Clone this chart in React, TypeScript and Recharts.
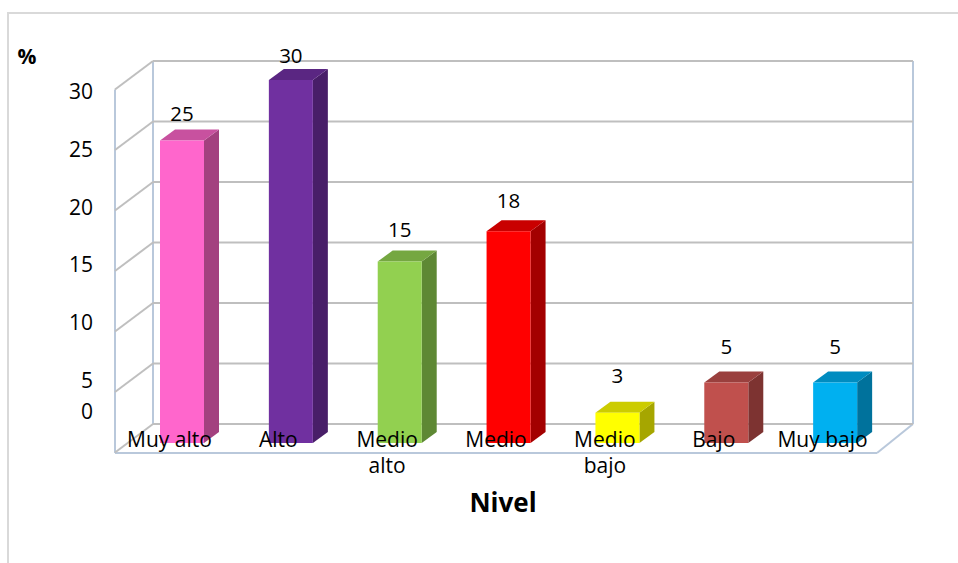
import React from 'react';
import { BarChart, Bar, XAxis, YAxis, CartesianGrid, LabelList } from 'recharts';

const categories = ['Muy alto', 'Alto', 'Medio alto', 'Medio', 'Medio bajo', 'Bajo', 'Muy bajo'];
const categoryLines = [['Muy alto'], ['Alto'], ['Medio', 'alto'], ['Medio'], ['Medio', 'bajo'], ['Bajo'], ['Muy bajo']];
const percentages = [25, 30, 15, 17.5, 2.5, 5, 5];
const yTicks = [0, 5, 10, 15, 20, 25, 30];
const yAxisTitle = '%';
const xAxisTitle = 'Nivel';

const frontColors = ['#FF66CC', '#7030A0', '#92D050', '#FF0000', '#FFFF00', '#C0504D', '#00B0F0'];
const topColors = ['#C8519F', '#5A2682', '#75A741', '#C90000', '#CCCC00', '#9A403E', '#008CC0'];
const sideColors = ['#A3417F', '#481E68', '#5E8834', '#A30000', '#A6A600', '#7D3331', '#00729C'];

const data = categories.map((c, i) => ({ nivel: c, pct: percentages[i], idx: i }));

const FONT = "'Open Sans', 'Liberation Sans', sans-serif";
const DX = 15;
const DY = -11;
const GRID = '#BFBFBF';
const EDGE = '#B9C8DB';

function Bar3D(props: any) {
  const { x, y, width, height, index } = props;
  if (width == null || height == null || isNaN(x) || isNaN(y)) return null;
  const f = frontColors[index];
  const t = topColors[index];
  const s = sideColors[index];
  return (
    <g>
      <polygon
        points={`${x + width},${y} ${x + width + DX},${y + DY} ${x + width + DX},${y + height + DY} ${x + width},${y + height}`}
        fill={s}
      />
      <polygon points={`${x},${y} ${x + DX},${y + DY} ${x + width + DX},${y + DY} ${x + width},${y}`} fill={t} />
      <rect x={x} y={y} width={width} height={height} fill={f} />
    </g>
  );
}

function WallLine(props: any) {
  const { x1, x2, y1, index, x, y, width, height } = props;
  const k = props.key ?? `wl-${index}`;
  const grid = (
    <g key={k + '-g'}>
      <line x1={x1 + 25} y1={y1 - 19} x2={x2 + 23} y2={y1 - 19} stroke={GRID} strokeWidth={2} />
      <line x1={x1 - 13} y1={y1 + 9.5} x2={x1 + 25} y2={y1 - 19} stroke={GRID} strokeWidth={2} />
    </g>
  );
  if (index !== 0 || typeof y !== 'number' || typeof height !== 'number') return grid;
  const bottom = y + height;
  const top = y;
  return (
    <g key={k}>
      <line x1={x - 13} y1={top + 9.5} x2={x - 13} y2={bottom + 10} stroke={EDGE} strokeWidth={2} />
      <line x1={x + 25} y1={top - 19} x2={x + 25} y2={bottom - 19} stroke={EDGE} strokeWidth={2} />
      <line x1={x + width + 23} y1={top - 19} x2={x + width + 23} y2={bottom - 19} stroke={EDGE} strokeWidth={2} />
      <line x1={x - 13} y1={bottom + 10} x2={x + width - 13} y2={bottom + 10} stroke={EDGE} strokeWidth={2} />
      <line x1={x + width - 13} y1={bottom + 10} x2={x + width + 23} y2={bottom - 19} stroke={EDGE} strokeWidth={2} />
      {grid}
    </g>
  );
}

function CategoryTick(props: any) {
  const { x, y, payload, index } = props;
  const i = categories.indexOf(payload.value);
  const lines = categoryLines[i >= 0 ? i : index] || [String(payload.value)];
  return (
    <g>
      {lines.map((ln: string, j: number) => (
        <text key={j} x={x - 13} y={y + 4 + j * 26} textAnchor="middle" fill="#000" fontSize={21} fontFamily={FONT}>
          {ln}
        </text>
      ))}
    </g>
  );
}

function ValueTick(props: any) {
  const { x, y, payload } = props;
  const base = y + 19 - (y - 80) * 0.045 - (payload.value === 0 ? 27 : 0);
  return (
    <text x={x} y={base} textAnchor="end" fill="#000" fontSize={21} fontFamily={FONT}>
      {payload.value}
    </text>
  );
}

function ValueLabel(props: any) {
  const { x, y, width, value } = props;
  if (x == null || y == null) return null;
  const base = y - 17 - (y - 80) * 0.039;
  return (
    <text x={x + width / 2} y={base} textAnchor="middle" fill="#000" fontSize={20.5} fontFamily={FONT}>
      {Math.round(value)}
    </text>
  );
}

export default function App() {
  return (
    <div style={{ position: 'absolute', left: 0, top: 0, width: 958, height: 563, background: '#fff', overflow: 'hidden' }}>
      <div
        style={{
          position: 'absolute',
          left: 7,
          top: 12,
          width: 1000,
          height: 700,
          border: '2px solid #D9D9D9',
        }}
      />
      <div style={{ position: 'absolute', left: 0, top: 0 }}>
        <BarChart width={958} height={563} data={data} margin={{ top: 80, right: 68, bottom: 0, left: 0 }}>
          <CartesianGrid vertical={false} horizontal={WallLine as any} />
          <XAxis
            dataKey="nivel"
            axisLine={false}
            tickLine={false}
            tickSize={0}
            tickMargin={0}
            height={120}
            interval={0}
            tick={<CategoryTick />}
            label={{
              value: xAxisTitle,
              content: ({ viewBox }: any) => (
                <text
                  x={viewBox.x + viewBox.width / 2 - 6}
                  y={viewBox.y + 69}
                  textAnchor="middle"
                  fontWeight="bold"
                  fontSize={26}
                  fontFamily={FONT}
                  fill="#000"
                >
                  {xAxisTitle}
                </text>
              ),
            }}
          />
          <YAxis
            domain={[0, 30]}
            ticks={yTicks}
            axisLine={false}
            tickLine={false}
            tickSize={0}
            tickMargin={35}
            width={128}
            interval={0}
            tick={<ValueTick />}
            label={{
              value: yAxisTitle,
              content: ({ viewBox }: any) => (
                <text
                  x={viewBox.x + 27}
                  y={viewBox.y - 16}
                  textAnchor="middle"
                  fontWeight="bold"
                  fontSize={21}
                  fontFamily={FONT}
                  fill="#000"
                >
                  {yAxisTitle}
                </text>
              ),
            }}
          />
          <Bar dataKey="pct" barSize={44} isAnimationActive={false} shape={<Bar3D />}>
            <LabelList dataKey="pct" content={<ValueLabel />} />
          </Bar>
        </BarChart>
      </div>
    </div>
  );
}
